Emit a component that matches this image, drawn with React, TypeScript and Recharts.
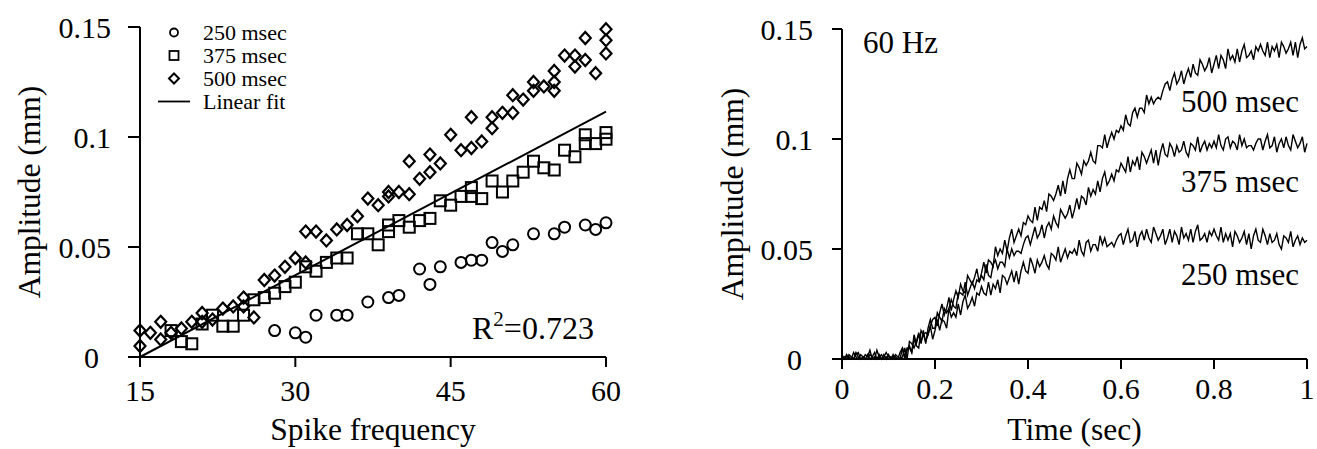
import React from 'react';
import {
  ComposedChart, LineChart, Line, Scatter, XAxis, YAxis, Legend, Customized,
} from 'recharts';

const FONT = '"Liberation Serif", "Times New Roman", serif';

// left panel: amplitude vs spike frequency
const freq250 = [28, 30, 31, 32, 34, 35, 37, 39, 40, 42, 43, 44, 46, 47, 48, 49, 50, 51, 53, 55, 56, 58, 59, 60];
const amp250 = [0.012, 0.011, 0.009, 0.019, 0.019, 0.019, 0.025, 0.027, 0.028, 0.04, 0.033, 0.041, 0.043, 0.044, 0.044, 0.052, 0.048, 0.051, 0.056, 0.056, 0.059, 0.06, 0.058, 0.061];

const freq375 = [18, 19, 20, 21, 22, 23, 24, 25, 26, 27, 28, 29, 30, 31, 32, 33, 34, 35, 36, 37, 38, 39, 39, 40, 41, 42, 43, 44, 45, 46, 47, 47, 48, 49, 50, 51, 52, 53, 54, 55, 56, 57, 58, 58, 59, 60, 60];
const amp375 = [0.012, 0.007, 0.006, 0.015, 0.019, 0.014, 0.014, 0.019, 0.026, 0.027, 0.029, 0.032, 0.034, 0.041, 0.039, 0.043, 0.045, 0.045, 0.056, 0.056, 0.051, 0.057, 0.06, 0.062, 0.059, 0.062, 0.063, 0.071, 0.069, 0.073, 0.077, 0.073, 0.072, 0.08, 0.075, 0.08, 0.084, 0.089, 0.086, 0.085, 0.094, 0.091, 0.101, 0.097, 0.097, 0.102, 0.099];

const freq500 = [15, 15, 16, 17, 17, 18, 19, 20, 21, 21, 22, 23, 24, 25, 25, 26, 27, 28, 29, 30, 31, 31, 32, 33, 34, 35, 36, 37, 38, 39, 39, 40, 41, 41, 42, 43, 43, 44, 45, 46, 47, 47, 48, 49, 49, 50, 51, 51, 52, 53, 53, 54, 55, 55, 55, 56, 57, 57, 58, 58, 59, 60, 60, 60];
const amp500 = [0.012, 0.005, 0.011, 0.016, 0.008, 0.011, 0.013, 0.016, 0.02, 0.016, 0.017, 0.022, 0.023, 0.027, 0.023, 0.018, 0.035, 0.037, 0.041, 0.045, 0.057, 0.043, 0.057, 0.053, 0.058, 0.06, 0.064, 0.072, 0.069, 0.075, 0.073, 0.075, 0.074, 0.089, 0.081, 0.084, 0.092, 0.088, 0.101, 0.094, 0.109, 0.095, 0.098, 0.104, 0.109, 0.111, 0.111, 0.119, 0.117, 0.125, 0.121, 0.123, 0.13, 0.125, 0.121, 0.137, 0.137, 0.132, 0.145, 0.135, 0.129, 0.149, 0.144, 0.138];

const fitFreq = [15, 60];
const fitAmp = [0, 0.1115];

const freqTicks = [15, 30, 45, 60];
const ampTicks = [0, 0.05, 0.1, 0.15];
const legendNames = ['250 msec', '375 msec', '500 msec', 'Linear fit'];

// right panel: amplitude vs time at 60 Hz
const time = [
  0, 0.005, 0.01, 0.015, 0.02, 0.025, 0.03, 0.035, 0.04, 0.045, 0.05, 0.055, 0.06, 0.065, 0.07, 0.075, 0.08, 0.085, 0.09, 0.095,
  0.1, 0.105, 0.11, 0.115, 0.12, 0.125, 0.13, 0.135, 0.14, 0.145, 0.15, 0.155, 0.16, 0.165, 0.17, 0.175, 0.18, 0.185, 0.19, 0.195,
  0.2, 0.205, 0.21, 0.215, 0.22, 0.225, 0.23, 0.235, 0.24, 0.245, 0.25, 0.255, 0.26, 0.265, 0.27, 0.275, 0.28, 0.285, 0.29, 0.295,
  0.3, 0.305, 0.31, 0.315, 0.32, 0.325, 0.33, 0.335, 0.34, 0.345, 0.35, 0.355, 0.36, 0.365, 0.37, 0.375, 0.38, 0.385, 0.39, 0.395,
  0.4, 0.405, 0.41, 0.415, 0.42, 0.425, 0.43, 0.435, 0.44, 0.445, 0.45, 0.455, 0.46, 0.465, 0.47, 0.475, 0.48, 0.485, 0.49, 0.495,
  0.5, 0.505, 0.51, 0.515, 0.52, 0.525, 0.53, 0.535, 0.54, 0.545, 0.55, 0.555, 0.56, 0.565, 0.57, 0.575, 0.58, 0.585, 0.59, 0.595,
  0.6, 0.605, 0.61, 0.615, 0.62, 0.625, 0.63, 0.635, 0.64, 0.645, 0.65, 0.655, 0.66, 0.665, 0.67, 0.675, 0.68, 0.685, 0.69, 0.695,
  0.7, 0.705, 0.71, 0.715, 0.72, 0.725, 0.73, 0.735, 0.74, 0.745, 0.75, 0.755, 0.76, 0.765, 0.77, 0.775, 0.78, 0.785, 0.79, 0.795,
  0.8, 0.805, 0.81, 0.815, 0.82, 0.825, 0.83, 0.835, 0.84, 0.845, 0.85, 0.855, 0.86, 0.865, 0.87, 0.875, 0.88, 0.885, 0.89, 0.895,
  0.9, 0.905, 0.91, 0.915, 0.92, 0.925, 0.93, 0.935, 0.94, 0.945, 0.95, 0.955, 0.96, 0.965, 0.97, 0.975, 0.98, 0.985, 0.99, 0.995,
  1,
];

const trace250 = [
  0, 0.001, 0, 0.002, 0.001, 0, 0.003, 0.001, 0, 0, 0.002, 0.001, 0.004, 0, 0.001, 0, 0.002, 0, 0.001, 0.003,
  0.001, 0, 0.002, 0, 0, 0.003, 0.005, 0, 0.004, 0.006, 0.003, 0.009, 0.006, 0.005, 0.013, 0.011, 0.008, 0.011, 0.015, 0.009,
  0.013, 0.018, 0.013, 0.018, 0.017, 0.014, 0.023, 0.019, 0.021, 0.019, 0.025, 0.02, 0.026, 0.029, 0.023, 0.025, 0.028, 0.024, 0.03, 0.029,
  0.033, 0.03, 0.029, 0.035, 0.029, 0.034, 0.032, 0.036, 0.03, 0.038, 0.037, 0.034, 0.037, 0.04, 0.035, 0.04, 0.034, 0.04, 0.044, 0.04,
  0.039, 0.046, 0.043, 0.039, 0.045, 0.042, 0.044, 0.047, 0.043, 0.041, 0.048, 0.047, 0.045, 0.051, 0.044, 0.047, 0.05, 0.046, 0.049, 0.048,
  0.05, 0.047, 0.054, 0.049, 0.047, 0.053, 0.054, 0.049, 0.052, 0.052, 0.049, 0.056, 0.052, 0.055, 0.051, 0.052, 0.053, 0.051, 0.054, 0.056,
  0.057, 0.052, 0.056, 0.059, 0.053, 0.054, 0.058, 0.051, 0.056, 0.058, 0.054, 0.059, 0.055, 0.053, 0.06, 0.057, 0.054, 0.056, 0.059, 0.052,
  0.055, 0.059, 0.053, 0.058, 0.056, 0.052, 0.06, 0.055, 0.057, 0.054, 0.059, 0.053, 0.058, 0.061, 0.054, 0.055, 0.057, 0.053, 0.058, 0.056,
  0.059, 0.056, 0.054, 0.06, 0.053, 0.057, 0.054, 0.057, 0.051, 0.058, 0.056, 0.053, 0.055, 0.058, 0.052, 0.057, 0.05, 0.056, 0.059, 0.054,
  0.053, 0.059, 0.056, 0.052, 0.057, 0.053, 0.054, 0.057, 0.052, 0.05, 0.056, 0.055, 0.053, 0.058, 0.051, 0.054, 0.056, 0.052, 0.055, 0.053,
  0.054,
];

const trace375 = [
  0.001, 0, 0.002, 0, 0, 0.003, 0.001, 0, 0.002, 0.001, 0, 0, 0.002, 0.001, 0, 0.004, 0.001, 0, 0.002, 0,
  0.002, 0, 0.001, 0.001, 0, 0, 0.001, 0.005, 0, 0.008, 0.007, 0.005, 0.008, 0.012, 0.007, 0.013, 0.007, 0.014, 0.018, 0.014,
  0.014, 0.021, 0.019, 0.017, 0.023, 0.021, 0.023, 0.027, 0.024, 0.023, 0.03, 0.03, 0.029, 0.035, 0.029, 0.032, 0.035, 0.032, 0.036, 0.035,
  0.038, 0.036, 0.043, 0.038, 0.037, 0.043, 0.045, 0.041, 0.044, 0.044, 0.042, 0.05, 0.046, 0.05, 0.047, 0.049, 0.049, 0.048, 0.052, 0.055,
  0.056, 0.052, 0.056, 0.06, 0.055, 0.057, 0.061, 0.055, 0.06, 0.062, 0.059, 0.065, 0.062, 0.06, 0.068, 0.066, 0.064, 0.066, 0.07, 0.064,
  0.068, 0.073, 0.068, 0.074, 0.073, 0.07, 0.078, 0.074, 0.077, 0.075, 0.081, 0.076, 0.082, 0.085, 0.079, 0.081, 0.084, 0.081, 0.086, 0.085,
  0.089, 0.087, 0.085, 0.092, 0.085, 0.09, 0.088, 0.092, 0.086, 0.094, 0.092, 0.089, 0.092, 0.095, 0.089, 0.095, 0.088, 0.094, 0.098, 0.093,
  0.092, 0.098, 0.096, 0.092, 0.097, 0.094, 0.095, 0.099, 0.094, 0.092, 0.098, 0.097, 0.095, 0.101, 0.094, 0.097, 0.099, 0.095, 0.098, 0.096,
  0.099, 0.096, 0.102, 0.097, 0.095, 0.1, 0.101, 0.096, 0.099, 0.098, 0.095, 0.102, 0.097, 0.1, 0.096, 0.097, 0.097, 0.095, 0.098, 0.1,
  0.1, 0.095, 0.099, 0.102, 0.096, 0.097, 0.101, 0.094, 0.098, 0.1, 0.096, 0.101, 0.097, 0.095, 0.102, 0.099, 0.096, 0.098, 0.101, 0.094,
  0.098,
];

const trace500 = [
  0.002, 0, 0.001, 0.001, 0, 0, 0.002, 0.003, 0, 0.001, 0, 0.002, 0, 0.001, 0.003, 0, 0.001, 0.002, 0, 0.001,
  0, 0.001, 0, 0.002, 0.001, 0, 0.005, 0.001, 0.005, 0.005, 0.003, 0.011, 0.007, 0.011, 0.008, 0.011, 0.012, 0.011, 0.015, 0.018,
  0.019, 0.015, 0.021, 0.025, 0.02, 0.023, 0.028, 0.022, 0.027, 0.031, 0.028, 0.034, 0.031, 0.03, 0.038, 0.036, 0.034, 0.037, 0.041, 0.035,
  0.039, 0.044, 0.039, 0.045, 0.044, 0.042, 0.051, 0.047, 0.05, 0.048, 0.054, 0.049, 0.055, 0.059, 0.053, 0.056, 0.059, 0.056, 0.062, 0.061,
  0.065, 0.063, 0.062, 0.069, 0.063, 0.069, 0.068, 0.072, 0.067, 0.075, 0.074, 0.072, 0.075, 0.079, 0.074, 0.081, 0.075, 0.082, 0.086, 0.082,
  0.082, 0.089, 0.087, 0.084, 0.09, 0.088, 0.09, 0.094, 0.09, 0.089, 0.097, 0.097, 0.096, 0.102, 0.096, 0.1, 0.103, 0.1, 0.104, 0.103,
  0.106, 0.104, 0.111, 0.107, 0.106, 0.112, 0.114, 0.11, 0.114, 0.114, 0.112, 0.12, 0.116, 0.119, 0.116, 0.118, 0.119, 0.118, 0.122, 0.125,
  0.126, 0.122, 0.127, 0.13, 0.125, 0.127, 0.131, 0.125, 0.129, 0.132, 0.128, 0.134, 0.13, 0.129, 0.136, 0.134, 0.131, 0.133, 0.137, 0.13,
  0.134, 0.138, 0.132, 0.138, 0.136, 0.132, 0.141, 0.136, 0.138, 0.135, 0.141, 0.135, 0.14, 0.143, 0.137, 0.138, 0.14, 0.136, 0.142, 0.14,
  0.143, 0.14, 0.138, 0.144, 0.137, 0.142, 0.14, 0.143, 0.137, 0.144, 0.142, 0.139, 0.141, 0.144, 0.138, 0.144, 0.137, 0.143, 0.146, 0.141,
  0.142,
];

const timeTicks = [0, 0.2, 0.4, 0.6, 0.8, 1];

const pts = (xs: number[], ys: number[]) => xs.map((x, i) => ({ x, y: ys[i] }));
const data250 = pts(freq250, amp250);
const data375 = pts(freq375, amp375);
const data500 = pts(freq500, amp500);
const fitData = pts(fitFreq, fitAmp);
const traceData = time.map((t, i) => ({ t, a250: trace250[i], a375: trace375[i], a500: trace500[i] }));

// markers
const Ring = (p: any) => <circle cx={p.cx} cy={p.cy} r={5.5} fill="none" stroke="#000" strokeWidth={2} />;
const Box = (p: any) => <rect x={p.cx - 5.5} y={p.cy - 5.5} width={11} height={11} fill="none" stroke="#000" strokeWidth={2} />;
const Diamond = (p: any) => (
  <path d={`M${p.cx},${p.cy - 6}L${p.cx + 5.5},${p.cy}L${p.cx},${p.cy + 6}L${p.cx - 5.5},${p.cy}Z`} fill="none" stroke="#000" strokeWidth={2.2} />
);

// y tick labels: the lone "0" sits further left than the decimals
const YTick = ({ x, y, payload, shift }: any) => (
  <text x={x} y={y} dx={payload.value === 0 ? shift : 0} dy="0.355em" textAnchor="end" fontSize={30} fontFamily={FONT} fill="#000">
    {payload.value}
  </text>
);

const axisStyle = { stroke: '#000', strokeWidth: 2 };
const tickStyle = { fontSize: 30, fontFamily: FONT, fill: '#000' };
const labelStyle = { fontSize: 31.5, fontFamily: FONT, fill: '#000', textAnchor: 'middle' as const };

const legendIcons = [
  <circle cx={16} cy={11.5} r={4} fill="none" stroke="#000" strokeWidth={1.8} />,
  <rect x={11.5} y={7} width={9} height={9} fill="none" stroke="#000" strokeWidth={1.8} />,
  <path d="M16,6.5L21,11.5L16,16.5L11,11.5Z" fill="none" stroke="#000" strokeWidth={2} />,
  <line x1={0} y1={11.5} x2={32} y2={11.5} stroke="#000" strokeWidth={1.8} />,
];

const renderLegend = () => (
  <div style={{ fontFamily: FONT, fontSize: 22, color: '#000' }}>
    {legendNames.map((name) => (
      <div key={name} style={{ display: 'flex', alignItems: 'center', height: 23 }}>
        <svg width={32} height={23} style={{ marginRight: 13, flex: 'none' }}>{legendIcons[legendNames.indexOf(name)]}</svg>
        <div style={{ display: 'block', height: 23, lineHeight: '23px', overflow: 'visible', whiteSpace: 'nowrap' }}>{name}</div>
      </div>
    ))}
  </div>
);

const RNote = () => (
  <text x={472} y={339} fontSize={32} fontFamily={FONT} fill="#000">
    R<tspan fontSize={21} dy={-13}>2</tspan><tspan dy={13}>=0.723</tspan>
  </text>
);

const TraceNotes = () => (
  <g fontFamily={FONT} fontSize={31} fill="#000">
    <text x={203} y={53}>60 Hz</text>
    <text x={639} y={112} textAnchor="end">500 msec</text>
    <text x={639} y={192} textAnchor="end">375 msec</text>
    <text x={639} y={285} textAnchor="end">250 msec</text>
  </g>
);

export default function App() {
  return (
    <div style={{ position: 'absolute', left: 0, top: 0, width: 1317, height: 449, background: '#fff' }}>
      <div style={{ position: 'absolute', left: 0, top: 0 }}>
        <ComposedChart width={660} height={449} margin={{ top: 27, right: 54, bottom: 0, left: 0 }}>
          <XAxis
            type="number" dataKey="x" domain={[15, 60]} ticks={freqTicks} interval={0}
            height={92} tickSize={10} tickMargin={13}
            axisLine={axisStyle} tickLine={axisStyle} tick={tickStyle}
            label={{ value: 'Spike frequency', position: 'insideBottom', offset: 9, style: labelStyle }}
          />
          <YAxis
            type="number" dataKey="y" domain={[0, 0.15]} ticks={ampTicks} interval={0}
            width={140} tickSize={12} tickMargin={17}
            axisLine={axisStyle} tickLine={axisStyle}
            tick={(p: any) => <YTick {...p} shift={-12} />}
            label={{ value: 'Amplitude (mm)', angle: -90, position: 'insideLeft', offset: 29, style: labelStyle }}
          />
          <Scatter name="250 msec" data={data250} shape={Ring} isAnimationActive={false} />
          <Scatter name="375 msec" data={data375} shape={Box} isAnimationActive={false} />
          <Scatter name="500 msec" data={data500} shape={Diamond} isAnimationActive={false} />
          <Line name="Linear fit" data={fitData} dataKey="y" type="linear" stroke="#000" strokeWidth={2} dot={false} isAnimationActive={false} />
          <Legend
            layout="vertical" align="center" verticalAlign="middle" content={renderLegend}
            wrapperStyle={{ left: 158, top: 21, width: 200, height: 92 }}
          />
          <Customized component={RNote} />
        </ComposedChart>
      </div>
      <div style={{ position: 'absolute', left: 660, top: 0 }}>
        <LineChart width={657} height={449} data={traceData} margin={{ top: 29, right: 10, bottom: 0, left: 0 }}>
          <XAxis
            type="number" dataKey="t" domain={[0, 1]} ticks={timeTicks} interval={0}
            height={90} tickSize={10} tickMargin={9}
            axisLine={axisStyle} tickLine={axisStyle} tick={tickStyle}
            label={{ value: 'Time (sec)', position: 'insideBottom', offset: 9, style: labelStyle }}
          />
          <YAxis
            type="number" domain={[0, 0.15]} ticks={ampTicks} interval={0}
            width={182} tickSize={10} tickMargin={19}
            axisLine={axisStyle} tickLine={axisStyle}
            tick={(p: any) => <YTick {...p} shift={-11} />}
            label={{ value: 'Amplitude (mm)', angle: -90, position: 'insideLeft', offset: 72, style: labelStyle }}
          />
          <Line dataKey="a250" type="linear" stroke="#000" strokeWidth={1.4} dot={false} isAnimationActive={false} />
          <Line dataKey="a375" type="linear" stroke="#000" strokeWidth={1.4} dot={false} isAnimationActive={false} />
          <Line dataKey="a500" type="linear" stroke="#000" strokeWidth={1.4} dot={false} isAnimationActive={false} />
          <Customized component={TraceNotes} />
        </LineChart>
      </div>
    </div>
  );
}
